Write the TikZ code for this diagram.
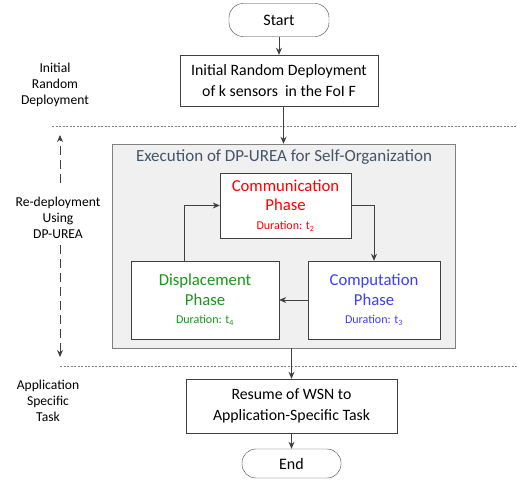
\documentclass[tikz,border=0pt]{standalone}
\usepackage{fontspec}
\setmainfont{Carlito}
\usepackage{xcolor}
\usepackage{tikz}
\usetikzlibrary{positioning,arrows.meta,calc}
\definecolor{boxline}{HTML}{404040}
\definecolor{execfill}{HTML}{F0F0F0}
\definecolor{titleblue}{HTML}{44546A}
\definecolor{commred}{HTML}{FF0000}
\definecolor{compblue}{HTML}{3F3FF5}
\definecolor{dispgreen}{HTML}{1A961A}
\tikzset{
  term/.style={draw=boxline,rounded corners=14pt,fill=white,align=center,inner sep=0pt,font=\fontsize{16}{21}\selectfont},
  proc/.style={draw=boxline,fill=white,align=center,inner sep=0pt,font=\fontsize{15.8}{21}\selectfont},
  phase/.style={draw=boxline,fill=white,align=center,inner sep=0pt,font=\fontsize{16.7}{19.5}\selectfont},
  side/.style={align=center,font=\fontsize{13.6}{16}\selectfont},
  flow/.style={->,draw=boxline,line width=0.8pt},
}
\newcommand{\dur}[1]{\\[-1pt]{\fontsize{12}{14}\selectfont Duration: t\textsubscript{#1}}}

\begin{document}
\begin{tikzpicture}[x=1pt,y=-1pt,>={Stealth[length=7pt,width=6pt]}]
  \useasboundingbox (0,0) rectangle (517,482);
  % separators between the stages
  \draw[gray,dash pattern=on 2pt off 1.5pt] (52,126.5) -- (517,126.5);
  \draw[gray,dash pattern=on 2pt off 1.5pt] (60,366) -- (517,366);
  % stage labels (left)
  \node[side] (lblinit) at (55,85) {Initial\\Random\\Deployment};
  \node[side] (lblredep) at (58,218) {Re-deployment\\Using\\DP-UREA};
  \node[side] (lblapp) at (48,401) {Application\\Specific\\Task};
  \coordinate (upA) at (60,183); \coordinate (upB) at (60,135);
  \coordinate (dnA) at (60,245); \coordinate (dnB) at (60,357);
  \draw[->,boxline,line width=0.9pt,dash pattern=on 9pt off 5pt] (upA) -- (upB);
  \draw[->,boxline,line width=0.9pt,dash pattern=on 9pt off 5pt] (dnA) -- (dnB);
  % main flow
  \node[term,minimum width=100pt,minimum height=33pt] (start) at (279,20) {Start};
  \node[proc,minimum width=198pt,minimum height=51pt] (init) at (279,80.5)
    {Initial Random Deployment\\of k sensors\ \ in the FoI F};
  \node[draw=gray,fill=execfill,minimum width=343pt,minimum height=204pt,inner sep=0pt] (exec) at (283.5,246) {};
  \node[text=titleblue,font=\fontsize{17}{20}\selectfont] (title) at (284,157)
    {Execution of DP-UREA for Self-Organization};
  \node[phase,text=commred,minimum width=131pt,minimum height=65pt] (comm) at (285.5,205.5)
    {Communication\\Phase\dur{2}};
  \node[phase,text=compblue,minimum width=132pt,minimum height=78pt] (comp) at (374,300)
    {Computation\\Phase\dur{3}};
  \node[phase,text=dispgreen,minimum width=148pt,minimum height=78pt] (disp) at (205,300)
    {Displacement\\Phase\dur{4}};
  \node[proc,minimum width=211pt,minimum height=54pt] (resume) at (291.5,406)
    {Resume of WSN to\\Application-Specific Task};
  \node[term,minimum width=99pt,minimum height=29pt] (end) at (291.5,463.5) {End};
  % connectors
  \draw[flow] (start) -- (init);
  \draw[flow] (init.south -| exec.north) -- (exec.north);
  \draw[flow] (comm.east) -| (comp.north);
  \draw[flow] (comp.west) -- (disp.east);
  \draw[flow] ([xshift=-21pt]disp.north) |- (comm.west);
  \draw[flow] (exec.south -| resume.north) -- (resume.north);
  \draw[flow] (resume) -- (end);
\end{tikzpicture}
\end{document}
